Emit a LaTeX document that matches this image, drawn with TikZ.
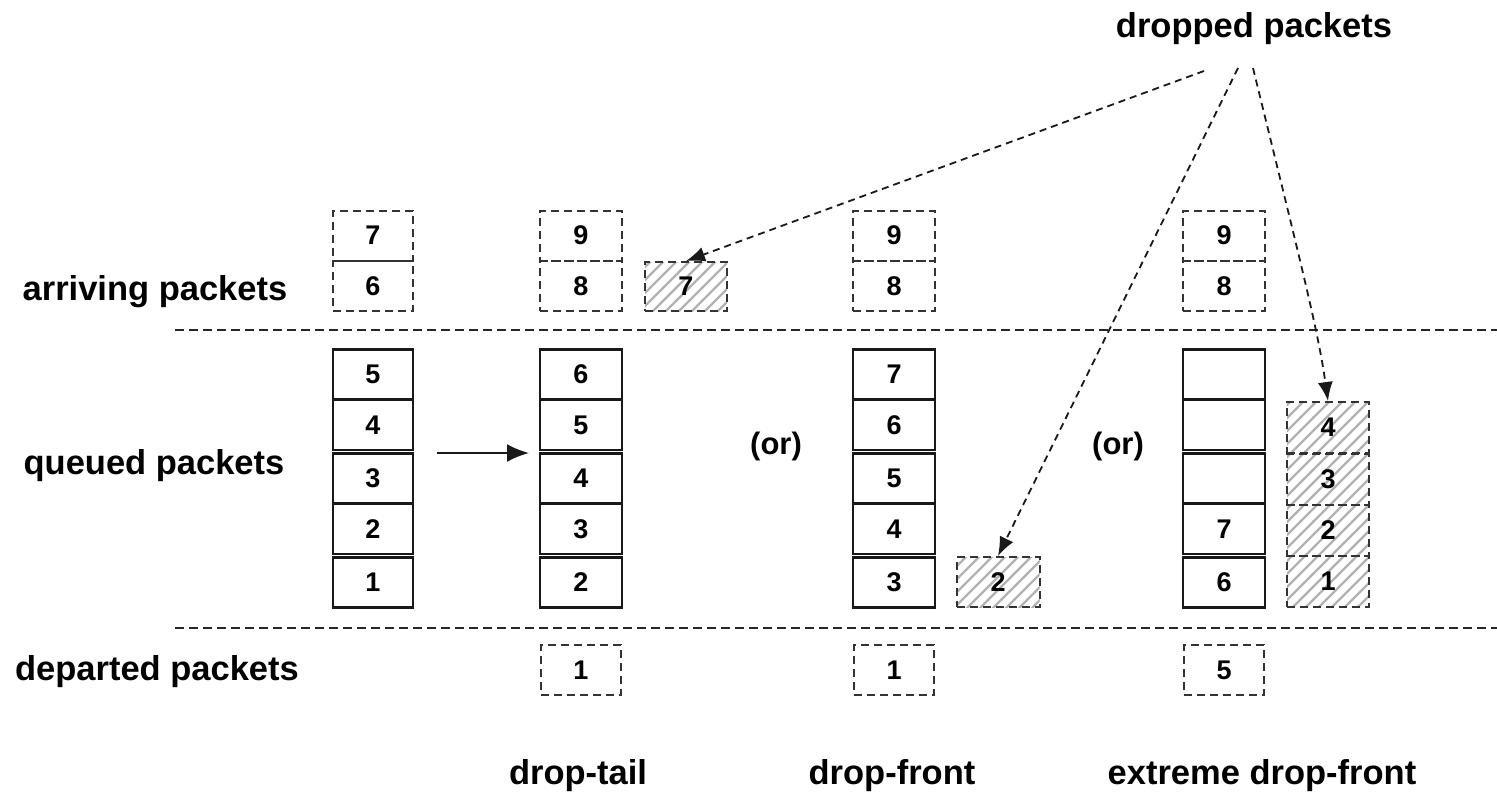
\documentclass[tikz,border=0pt]{standalone}
\usepackage{fontspec}
\setmainfont{Liberation Sans}
\usetikzlibrary{arrows.meta,patterns}

% diagonal hatching with solid strokes
\pgfdeclarepatternformonly{packethatch}{\pgfpoint{-1pt}{-1pt}}{\pgfpoint{14pt}{14pt}}{\pgfpoint{13pt}{13pt}}{
  \pgfsetlinewidth{2.2pt}\pgfsetdash{}{0pt}
  \pgfpathmoveto{\pgfpoint{-1pt}{-1pt}}
  \pgfpathlineto{\pgfpoint{14pt}{14pt}}
  \pgfusepath{stroke}}

\tikzset{
  lbl/.style={font=\fontsize{34.5}{40}\selectfont\bfseries, inner sep=0pt, anchor=base},
  orlbl/.style={font=\fontsize{31}{36}\selectfont\bfseries, inner sep=0pt},
  pkt/.style={draw=black!90, line width=2.2pt, minimum width=80pt, minimum height=50pt,
              inner sep=0pt, font=\fontsize{27}{31}\selectfont\bfseries},
  dpkt/.style={pkt, draw=black!80, line width=2pt, dash pattern=on 8pt off 5pt},
  hpkt/.style={dpkt, pattern=packethatch, pattern color=black!30},
  sep/.style={line width=1.8pt, draw=black!85, dash pattern=on 9pt off 5pt},
  droparrow/.style={line width=1.8pt, draw=black!90, dash pattern=on 7pt off 5pt,
                    -{Latex[length=19pt,width=15pt]}},
}

\begin{document}
\begin{tikzpicture}[x=1pt,y=-1pt]
\useasboundingbox[fill=white] (0,0) rectangle (1497,795);

% row labels
\node[lbl] (arr) at (155,300) {arriving packets};
\node[lbl] (que) at (154,474) {queued packets};
\node[lbl] (dep) at (157,680) {departed packets};
\node[lbl] (drp) at (1254,37) {dropped packets};

% bottom labels
\node[lbl] (ltail)  at (578,784) {drop-tail};
\node[lbl] (lfront) at (892,784) {drop-front};
\node[lbl] (lext)   at (1262,784) {extreme drop-front};

% separators
\draw[sep] (175,330) -- (1497,330);
\draw[sep] (175,628) -- (1497,628);

% arriving packets
\node[dpkt] (a1t) at (373,235.5) {7};
\node[dpkt] (a1b) at (373,286)   {6};
\node[dpkt, minimum width=82pt] (a2t) at (581,235.5) {9};
\node[dpkt, minimum width=82pt] (a2b) at (581,286)   {8};
\node[dpkt, minimum width=82pt] (a3t) at (894,235.5) {9};
\node[dpkt, minimum width=82pt] (a3b) at (894,286)   {8};
\node[dpkt, minimum width=82pt] (a4t) at (1224,235.5) {9};
\node[dpkt, minimum width=82pt] (a4b) at (1224,286)   {8};

% queues
\foreach \y/\t [count=\i] in {374.5/5,425/4,478.5/3,529/2,582.5/1}
  \node[pkt] (qa\i) at (373,\y) {\t};
\foreach \y/\t [count=\i] in {374.5/6,425/5,478.5/4,529/3,582.5/2}
  \node[pkt, minimum width=82pt] (qb\i) at (581,\y) {\t};
\foreach \y/\t [count=\i] in {374.5/7,425/6,478.5/5,529/4,582.5/3}
  \node[pkt, minimum width=82pt] (qc\i) at (894,\y) {\t};
\foreach \y/\t [count=\i] in {374.5/,425/,478.5/,529/7,582.5/6}
  \node[pkt, minimum width=82pt] (qd\i) at (1224,\y) {\t};

% dropped packets
\node[hpkt, minimum width=82pt, minimum height=49pt] (x7) at (686,286.5) {7};
\node[hpkt, minimum width=83pt] (x2) at (998,582) {2};
\foreach \y/\t [count=\i] in {427.5/4,479/3,530.5/2,581.5/1}
  \node[hpkt, minimum width=82pt, minimum height=51pt] (xd\i) at (1328,\y) {\t};

% departed packets
\node[dpkt] (d1) at (581,670) {1};
\node[dpkt] (d2) at (894,670) {1};
\node[dpkt] (d3) at (1224,670) {5};

% (or) labels
\node[orlbl] (or1) at (776,446) {(or)};
\node[orlbl] (or2) at (1118,446) {(or)};

% queue transition arrow
\coordinate (t0) at (437,453);
\coordinate (t1) at (529,453);
\draw[line width=2pt, draw=black!90, -{Latex[length=22pt,width=18pt]}] (t0) -- (t1);

% arrows from the dropped-packets label
\coordinate (s1) at (1204,71);
\coordinate (s2) at (1238,68);
\coordinate (s3) at (1253,68);
\draw[droparrow] (s1) -- (x7.north);
\draw[droparrow] (s2) -- (x2.north);
\draw[droparrow] (s3) .. controls (1300,260) and (1318,330) .. (xd1.north);
\end{tikzpicture}
\end{document}
